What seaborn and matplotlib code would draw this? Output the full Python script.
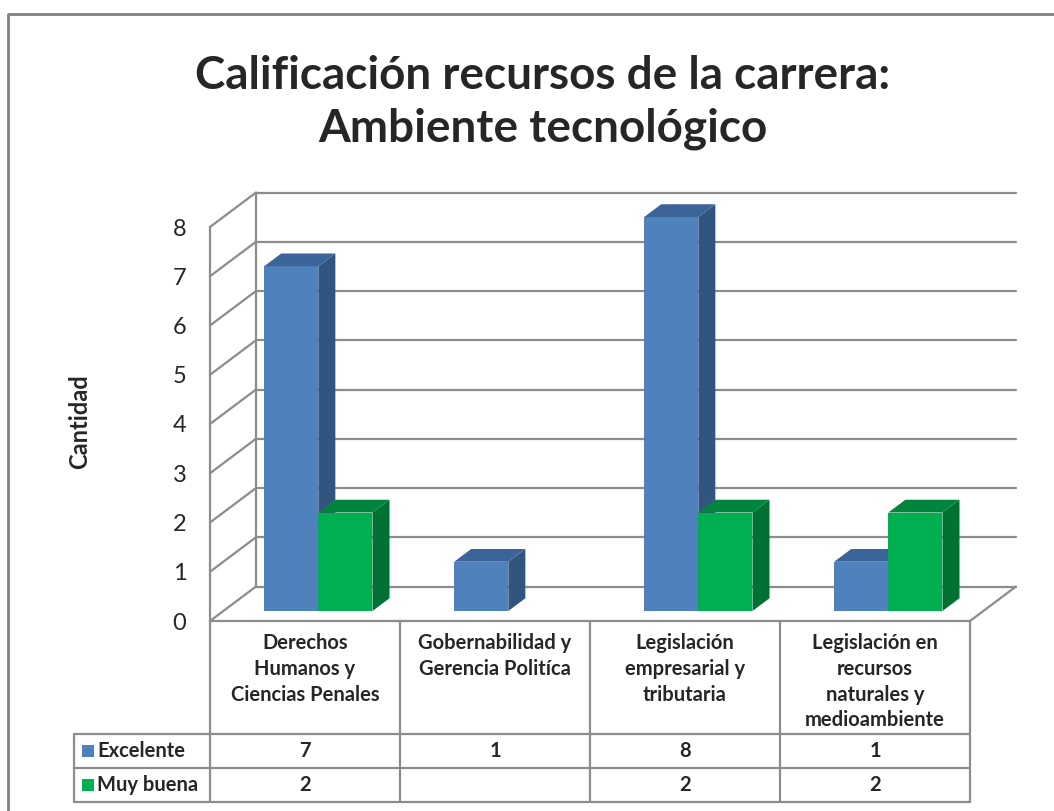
import numpy as np
import pandas as pd
import matplotlib
matplotlib.use("Agg")
import matplotlib.pyplot as plt
from matplotlib.patches import Polygon
from matplotlib.transforms import blended_transform_factory
import seaborn as sns

# ─── data ────────────────────────────────────────────────────────────────────
categorias = [
    "Derechos\nHumanos y\nCiencias Penales",
    "Gobernabilidad y\nGerencia Politíca",
    "Legislación\nempresarial y\ntributaria",
    "Legislación en\nrecursos\nnaturales y\nmedioambiente",
]
series = ["Excelente", "Muy buena"]
excelente = [7, 1, 8, 1]
muy_buena = [2, np.nan, 2, 2]
y_ticks = [0, 1, 2, 3, 4, 5, 6, 7, 8]

titulo = "Calificación recursos de la carrera:\nAmbiente tecnológico"
eje_y = "Cantidad"

# colours (front, side, top)
FRONT = {"Excelente": "#4F81BD", "Muy buena": "#00B050"}
SIDE = {"Excelente": "#32557F", "Muy buena": "#007033"}
TOP = {"Excelente": "#3B6598", "Muy buena": "#00853C"}
GRID = "#8C8C8C"

df = pd.DataFrame({
    "cat": np.repeat(np.arange(len(categorias)), 2),
    "serie": series * len(categorias),
    "valor": [v for pair in zip(excelente, muy_buena) for v in pair],
})

sns.set_style("white")
plt.rcParams["font.family"] = ["Lato", "DejaVu Sans"]

W, H = 1054, 811
fig = plt.figure(figsize=(W / 100, H / 100), dpi=100)

def fy(p):
    return 1 - p / H

def fx(p):
    return p / W

# main axes: x -0.5..3.5 maps to 210..970 px, y 0..8 maps to 621..227 px
ax = fig.add_axes([fx(210), fy(621), fx(970) - fx(210), fy(227) - fy(621)])
ax.set_xlim(-0.5, len(categorias) - 0.5)
ax.set_ylim(0, max(y_ticks))

# oblique depth vector in data units
DX, DY = 0.242, 0.70
D0, DD = 0.29, 0.37      # bar front offset / bar depth (fractions of floor depth)

x0, x1 = -0.5, len(categorias) - 0.5
kw = dict(color=GRID, lw=1.6, clip_on=False, zorder=1, solid_capstyle="round")
for v in y_ticks:
    ax.plot([x0 + DX, x1 + DX], [v + DY, v + DY], **kw)      # back wall
    ax.plot([x0, x0 + DX], [v, v + DY], **kw)                 # left wall
ax.plot([x0, x0], [0, max(y_ticks)], **kw)
ax.plot([x0 + DX, x0 + DX], [DY, max(y_ticks) + DY], **kw)
ax.plot([x1, x1 + DX], [0, DY], **kw)                         # floor right edge

sns.barplot(data=df, x="cat", y="valor", hue="serie", hue_order=series,
            palette=FRONT, saturation=1, width=0.57, linewidth=0, ax=ax,
            legend=False, native_scale=True, zorder=3)

bars = [p for p in ax.patches if np.isfinite(p.get_height()) and p.get_height() > 0]
bars.sort(key=lambda p: p.get_x())
for i, p in enumerate(bars):
    serie = series[0] if p.get_facecolor()[1] < 0.6 else series[1]
    x = p.get_x() + D0 * DX
    y = D0 * DY
    w, h = p.get_width(), p.get_height()
    p.set_x(x)
    p.set_y(y)
    p.set_zorder(3 + i * 0.1)
    p.set_clip_on(False)
    ddx, ddy = DD * DX, DD * DY
    side = Polygon([(x + w, y), (x + w + ddx, y + ddy), (x + w + ddx, y + h + ddy), (x + w, y + h)],
                   closed=True, fc=SIDE[serie], ec="none", zorder=3 + i * 0.1, clip_on=False)
    top = Polygon([(x, y + h), (x + ddx, y + h + ddy), (x + w + ddx, y + h + ddy), (x + w, y + h)],
                  closed=True, fc=TOP[serie], ec="none", zorder=3 + i * 0.1 + 0.01, clip_on=False)
    ax.add_patch(side)
    ax.add_patch(top)

for s in ax.spines.values():
    s.set_visible(False)
ax.set_xticks([])
ax.set_yticks(y_ticks)
ax.set_yticklabels([str(t) for t in y_ticks], fontsize=17)
ax.tick_params(axis="y", length=0, pad=17)
ax.set_xlabel("")
ax.set_ylabel("")
ax.grid(False)
ax.patch.set_alpha(0)

# ─── data table ──────────────────────────────────────────────────────────────
tr = blended_transform_factory(ax.transData, fig.transFigure)
ft = fig.transFigure
row_top, row_hdr, row_1, row_2 = 621, 734, 768, 802
leg_left = 74
lkw = dict(color=GRID, lw=1.6, clip_on=False, zorder=2)

ax.plot([x0, x1], [fy(row_top)] * 2, transform=tr, **lkw)
for r in (row_hdr, row_1, row_2):
    fig.add_artist(plt.Line2D([fx(leg_left), fx(970)], [fy(r)] * 2, transform=ft, **lkw))
for k in range(len(categorias) + 1):
    ax.plot([x0 + k, x0 + k], [fy(row_top), fy(row_2)], transform=tr, **lkw)
fig.add_artist(plt.Line2D([fx(leg_left)] * 2, [fy(row_hdr), fy(row_2)], transform=ft, **lkw))

for i, cat in enumerate(categorias):
    ax.text(i, fy(633), cat, transform=tr, ha="center", va="top",
            fontsize=14.5, fontweight="bold", linespacing=1.36)
    for vals, r0, r1 in ((excelente, row_hdr, row_1), (muy_buena, row_1, row_2)):
        v = vals[i]
        if np.isfinite(v):
            ax.text(i, fy((r0 + r1) / 2), f"{int(v)}", transform=tr, ha="center",
                    va="center", fontsize=14.5, fontweight="bold")

for serie, r0, r1 in ((series[0], row_hdr, row_1), (series[1], row_1, row_2)):
    yc = (r0 + r1) / 2
    fig.add_artist(plt.Rectangle((fx(82), fy(yc + 6)), fx(12), 12 / H,
                                 transform=ft, fc=FRONT[serie], ec="none"))
    fig.text(fx(97), fy(yc), serie, ha="left", va="center",
             fontsize=14.5, fontweight="bold")

# ─── title, axis label, frame ────────────────────────────────────────────────
fig.text(fx(543), fy(142), titulo, ha="center", va="baseline",
         fontsize=33, fontweight="bold", linespacing=1.33)
fig.text(fx(80), fy(422), eje_y, rotation=90, ha="center", va="center",
         fontsize=17, fontweight="bold")
fig.add_artist(plt.Line2D([fx(8), fx(8), fx(W)], [0, fy(14), fy(14)],
                          transform=ft, color="#808080", lw=2))

fig.savefig("out.png", dpi=100)
